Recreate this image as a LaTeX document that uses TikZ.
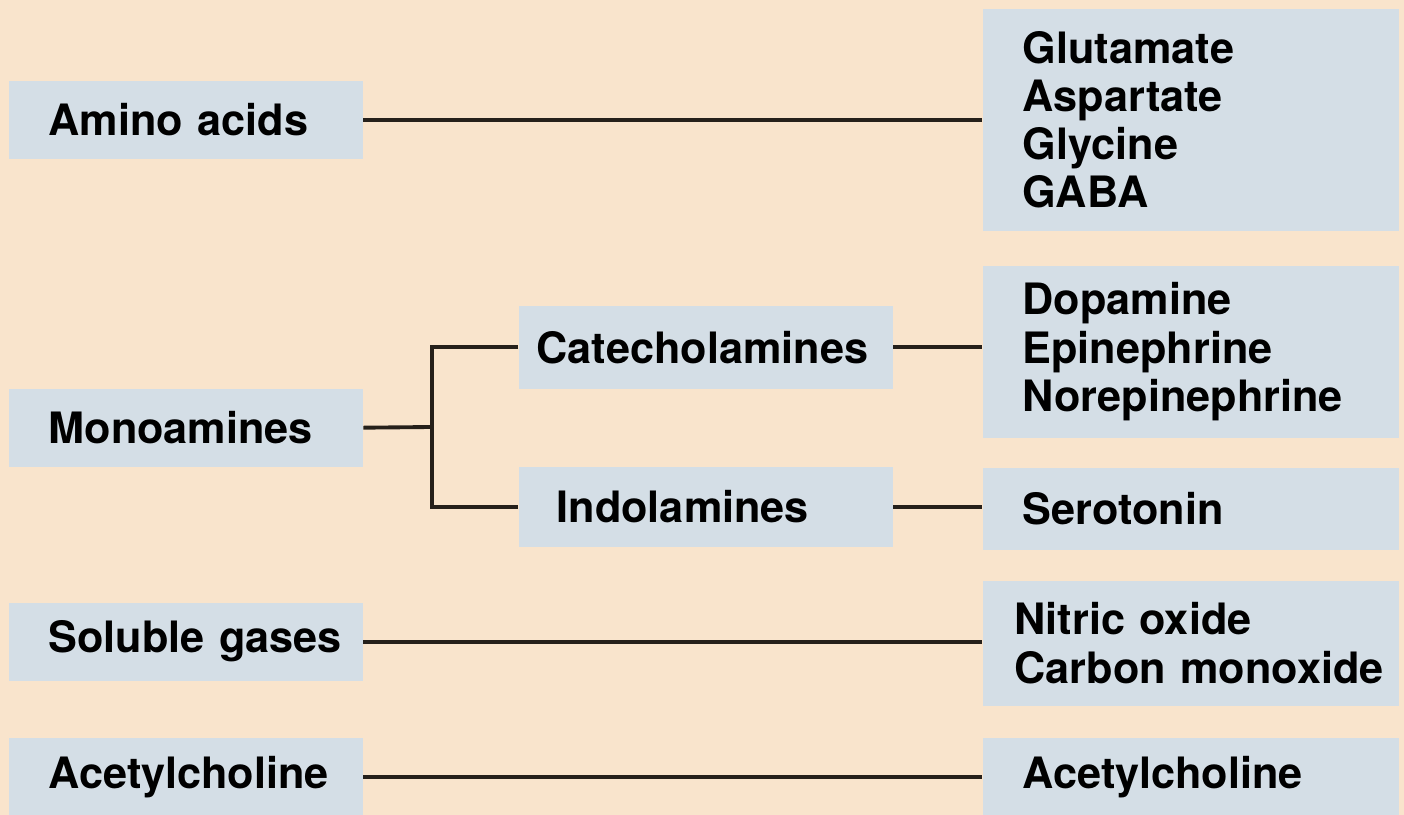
\documentclass[tikz,border=0pt]{standalone}
\usepackage{fontspec}
\setmainfont{TeX Gyre Heros}
\usepackage{xcolor}
\usepackage{tikz}
\usetikzlibrary{positioning}

\definecolor{fondo}{RGB}{249,228,204}
\definecolor{caja}{RGB}{212,222,230}
\definecolor{linea}{RGB}{38,32,26}

\begin{document}
\begin{tikzpicture}[
		font=\fontsize{12.3}{13.7}\selectfont\bfseries,
		caja/.style={fill=caja, anchor=north west, align=left, inner ysep=0pt},
		izq/.style={caja, text width=2.74cm, inner xsep=0.40cm, minimum height=0.78cm},
		medio/.style={caja, text width=3.38cm, inner xsep=0.18cm},
		der/.style={caja, text width=3.36cm, inner xsep=0.40cm},
		rama/.style={draw=linea, line width=1.1pt}
	]
			% Fondo
			\fill[fondo] (0,0) rectangle (14.04,8.15);
			\useasboundingbox (0,0) rectangle (14.04,8.15);

			% Cajas de la izquierda
			\node[izq] (amino) at (0.08,7.35) {Amino acids};
			\node[izq] (mono) at (0.08,4.27) {Monoamines};
			\node[izq] (gases) at (0.08,2.13) {\mbox{Soluble gases}};
			\node[izq] (acetil) at (0.08,0.78) {Acetylcholine};

			% Cajas del medio
			\node[medio, minimum height=0.83cm] (catecol) at (5.18,5.10) {Catecholamines};
			\node[medio, minimum height=0.80cm] (indol) at (5.18,3.49) {\hspace{0.2cm}Indolamines};

			% Cajas de la derecha
			\node[der, minimum height=2.22cm] (listaamino) at (9.82,8.07)
				{Glutamate\\Aspartate\\Glycine\\GABA};
			\node[der, minimum height=1.72cm] (listacatecol) at (9.82,5.50)
				{Dopamine\\Epinephrine\\Norepinephrine};
			\node[der, minimum height=0.82cm] (sero) at (9.82,3.48) {Serotonin};
			\node[der, minimum height=1.25cm, inner xsep=0.32cm, text width=3.52cm] (listagases) at (9.82,2.35)
				{Nitric oxide\\\mbox{Carbon monoxide}};
			\node[der, minimum height=0.78cm] (listaacetil) at (9.82,0.78) {Acetylcholine};

			% Lineas
			\coordinate (bif) at (4.32,3.88);
			\draw[rama] (amino.east) -- (amino.east -| listaamino.west);
			\draw[rama] (mono.east) -- (bif);
			\draw[rama] (catecol.west) -| (bif) |- (indol.west);
			\draw[rama] (catecol.east) -- (catecol.east -| listacatecol.west);
			\draw[rama] (indol.east) -- (indol.east -| sero.west);
			\draw[rama] (gases.east) -- (gases.east -| listagases.west);
			\draw[rama] (acetil.east) -- (listaacetil.west);

		\end{tikzpicture}
\end{document}
